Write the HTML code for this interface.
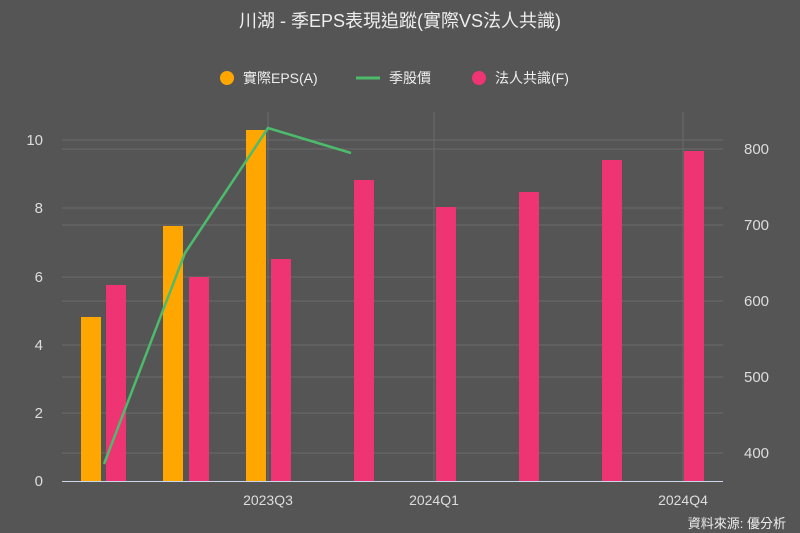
<!DOCTYPE html>
<html><head><meta charset="utf-8"><style>
body{margin:0;background:#555;}
svg{display:block;font-family:"Liberation Sans","Noto Sans CJK TC",sans-serif;}
</style></head><body>
<svg width="800" height="533" viewBox="0 0 800 533">
<rect width="800" height="533" fill="#555"/>
<text x="400" y="27" fill="#eee" font-size="18" text-anchor="middle">川湖 - 季EPS表現追蹤(實際VS法人共識)</text>
<circle cx="227" cy="78" r="7" fill="#ffa600"/>
<text x="243" y="83" fill="#eee" font-size="14">實際EPS(A)</text>
<line x1="356" y1="78" x2="380" y2="78" stroke="#4cbb6c" stroke-width="3"/>
<text x="389" y="83" fill="#eee" font-size="14">季股價</text>
<circle cx="479" cy="78" r="7" fill="#ef3474"/>
<text x="495" y="83" fill="#eee" font-size="14">法人共識(F)</text>
<g stroke="#6a6a6a" stroke-width="1">
<line x1="62" y1="140" x2="723" y2="140"/><line x1="62" y1="208" x2="723" y2="208"/>
<line x1="62" y1="277" x2="723" y2="277"/><line x1="62" y1="345" x2="723" y2="345"/>
<line x1="62" y1="413" x2="723" y2="413"/>
<line x1="62" y1="149" x2="723" y2="149"/><line x1="62" y1="225" x2="723" y2="225"/>
<line x1="62" y1="301" x2="723" y2="301"/><line x1="62" y1="377" x2="723" y2="377"/>
<line x1="62" y1="453" x2="723" y2="453"/>
<line x1="268" y1="112" x2="268" y2="481"/><line x1="434" y1="112" x2="434" y2="481"/>
<line x1="683" y1="112" x2="683" y2="481"/>
</g>
<g fill="#ffa600">
<rect x="81" y="317" width="20" height="164"/>
<rect x="163" y="226" width="20" height="255"/>
<rect x="246" y="130" width="20" height="351"/>
</g>
<g fill="#ef3474">
<rect x="106" y="285" width="20" height="196"/>
<rect x="189" y="277" width="20" height="204"/>
<rect x="271" y="259" width="20" height="222"/>
<rect x="354" y="180" width="20" height="301"/>
<rect x="436" y="207" width="20" height="274"/>
<rect x="519" y="192" width="20" height="289"/>
<rect x="602" y="160" width="20" height="321"/>
<rect x="684" y="151" width="20" height="330"/>
</g>
<line x1="62" y1="481.5" x2="723" y2="481.5" stroke="#ccd6eb" stroke-width="1"/>
<polyline points="104,464 185,253 268,128 351,153" fill="none" stroke="#4cbb6c" stroke-width="2.5"/>
<g fill="#ddd" font-size="15" text-anchor="end">
<text x="43" y="486">0</text><text x="43" y="418">2</text><text x="43" y="350">4</text>
<text x="43" y="282">6</text><text x="43" y="213">8</text><text x="43" y="145">10</text>
</g>
<g fill="#ddd" font-size="15">
<text x="744" y="154">800</text><text x="744" y="230">700</text><text x="744" y="306">600</text>
<text x="744" y="382">500</text><text x="744" y="458">400</text>
</g>
<g fill="#ddd" font-size="14" text-anchor="middle">
<text x="268" y="505">2023Q3</text><text x="434" y="505">2024Q1</text><text x="683" y="505">2024Q4</text>
</g>
<text x="786" y="528" fill="#eee" font-size="13" text-anchor="end">資料來源: 優分析</text>
</svg>
</body></html>
